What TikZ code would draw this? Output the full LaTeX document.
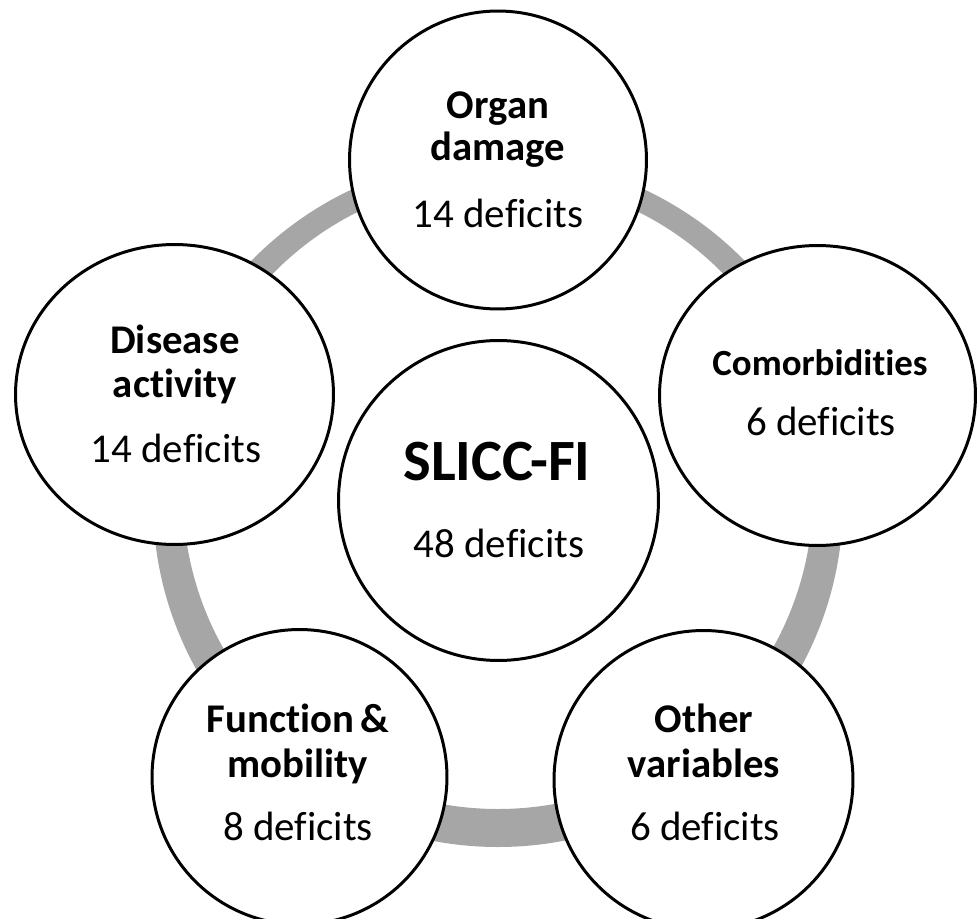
\documentclass[tikz,border=0pt]{standalone}
\usepackage{fontspec}
\setmainfont{Carlito}[Ligatures={NoCommon}]
\usetikzlibrary{shapes.geometric}
\definecolor{ringgray}{RGB}{166,166,166}

\begin{document}
\begin{tikzpicture}[x=0.02cm, y=-0.02cm]

      \tikzset{bubble/.style={draw, ellipse, line width=1.7pt, fill=white, inner sep=0pt},
               head/.style={anchor=base, font=\fontsize{23.2}{28}\selectfont\bfseries},
               count/.style={anchor=base, font=\fontsize{23.3}{28}\selectfont}}
      \useasboundingbox (0,0) rectangle (977,919);
%% Ring
      \fill[ringgray, even odd rule] (498,502) circle (345) (498,494) circle (315);
%% Circles
      	\node[bubble, minimum width=6.4cm, minimum height=6.4cm] (slicc) at (498.5,500.5) {};
      	\node[bubble, minimum width=5.94cm, minimum height=5.96cm] (organ) at (498,160) {};
      	\node[bubble, minimum width=6.32cm, minimum height=6.0cm] (comorb) at (817.5,395.5) {};
      	\node[bubble, minimum width=6.36cm, minimum height=6.0cm] (disease) at (174.5,394.5) {};
      	\node[bubble, minimum width=5.9cm, minimum height=5.9cm] (function) at (299.5,777) {};
      	\node[bubble, minimum width=5.98cm, minimum height=5.98cm] (other) at (703.5,780) {};
%Texts
		\node[head, font=\fontsize{33.3}{40}\selectfont\bfseries] (slicc1) at (497,480) {SLICC-FI};
		\node[count] (slicc2) at (499,557) {48 deficits};
		\node[head] (organ1) at (498,118) {Organ};
		\node[head] (organ2) at (498,160) {damage};
		\node[count] (organ3) at (498,227) {14 deficits};
		\node[head, font=\fontsize{21}{25}\selectfont\bfseries] (comorb1) at (820,375) {Comorbidities};
		\node[count] (comorb2) at (821,435) {6 deficits};
		\node[head] (disease1) at (175,353) {Disease};
		\node[head] (disease2) at (175,397) {activity};
		\node[count] (disease3) at (176,462) {14 deficits};
		\node[head] (function1) at (298,732) {Function\,\&};
		\node[head] (function2) at (298,777) {mobility};
		\node[count] (function3) at (298,840) {8 deficits};
		\node[head] (other1) at (704,732) {Other};
		\node[head] (other2) at (704,777) {variables};
		\node[count] (other3) at (705,840) {6 deficits};

	\end{tikzpicture}
\end{document}
